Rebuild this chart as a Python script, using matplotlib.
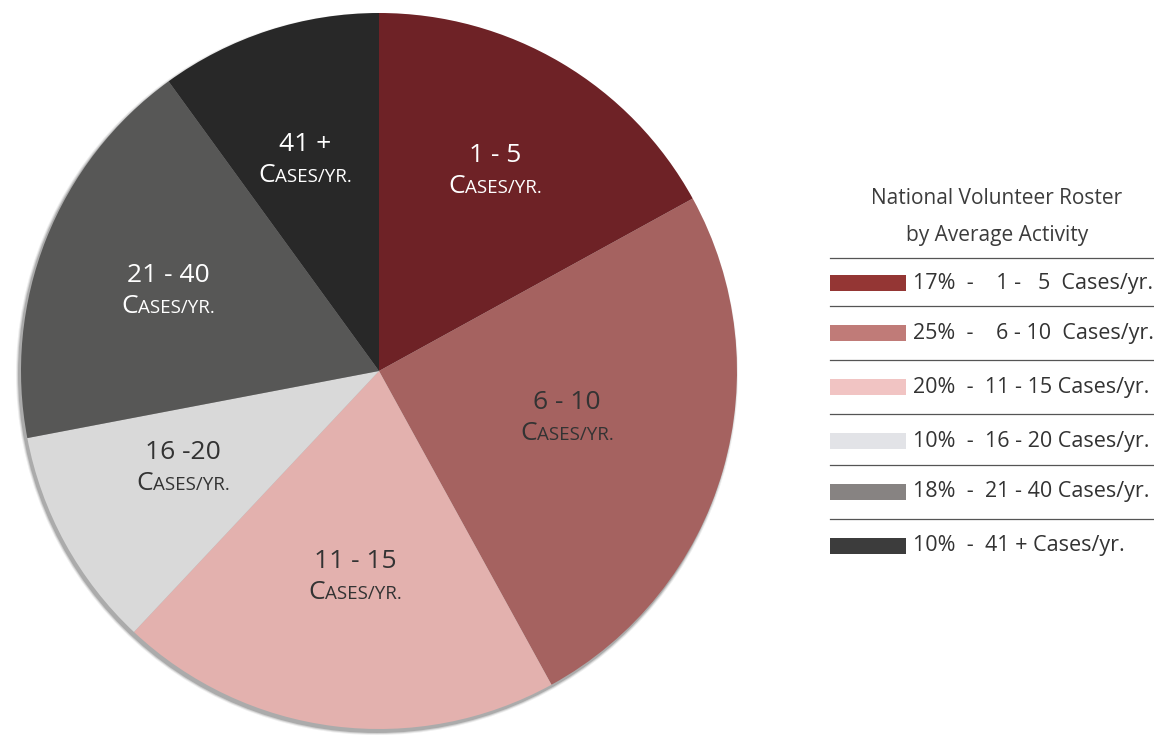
import matplotlib
matplotlib.use("Agg")
import numpy as np
import matplotlib.pyplot as plt
from matplotlib.patches import Rectangle, Circle
from matplotlib.offsetbox import TextArea, HPacker, AnnotationBbox

# data
shares = [17, 25, 20, 10, 18, 10]
ranges = ["1 - 5", "6 - 10", "11 - 15", "16 -20", "21 - 40", "41 +"]
legend_labels = [
    "17%  -    1 -   5  Cases/yr.",
    "25%  -    6 - 10  Cases/yr.",
    "20%  -  11 - 15 Cases/yr.",
    "10%  -  16 - 20 Cases/yr.",
    "18%  -  21 - 40 Cases/yr.",
    "10%  -  41 + Cases/yr.",
]
pie_colors = ["#6e2226", "#a56260", "#e3b1ae", "#d9d9d9", "#575756", "#282828"]
legend_colors = ["#943634", "#c07b78", "#f1c4c3", "#e2e3e7", "#878382", "#3c3c3c"]
text_colors = ["white", "#333333", "#333333", "#333333", "white", "white"]

FONT = ["Open Sans", "DejaVu Sans"]
plt.rcParams["font.family"] = FONT

W, H = 1154, 738
fig = plt.figure(figsize=(W / 100, H / 100), dpi=100)
ax = fig.add_axes([0, 0, 1, 1])

cx, cy, R = 379, H - 371, 358

# soft shadow lower-left
for k, a in enumerate([0.10, 0.18, 0.30]):
    ax.add_patch(Circle((cx - 2, cy - 3), R + 3 - k, color="#555555", alpha=a, lw=0, zorder=0))

wedges, _ = ax.pie(shares, colors=pie_colors, startangle=90, counterclock=False,
                   center=(cx, cy), radius=R, wedgeprops=dict(linewidth=0))
for w in wedges:
    w.set_zorder(1)


def smallcaps(x, y, color):
    big = TextArea("C", textprops=dict(size=19, color=color, family=FONT))
    small = TextArea("ASES/YR.", textprops=dict(size=13.5, color=color, family=FONT))
    box = HPacker(children=[big, small], align="baseline", pad=0, sep=0)
    ab = AnnotationBbox(box, (x, y), frameon=False, box_alignment=(0.5, 0.5), pad=0, zorder=3)
    ax.add_artist(ab)


# label placement: fraction of radius and small angle tweak (deg, ccw)
dist = [0.646, 0.541, 0.577, 0.611, 0.631, 0.627]
dtheta = [0.5, 2.2, 0.5, -2.5, 0.6, 1.2]
for w, lab, d, dt, tc in zip(wedges, ranges, dist, dtheta, text_colors):
    th = np.deg2rad((w.theta1 + w.theta2) / 2 + dt)
    px, py = cx + d * R * np.cos(th), cy + d * R * np.sin(th)
    ax.text(px, py + 15, lab, ha="center", va="center", size=19, color=tc, zorder=3)
    smallcaps(px, py - 16, tc)

# legend block
ax.text(997, H - 198, "National Volunteer Roster", ha="center", va="center", size=15, color="#3c3c3c")
ax.text(997, H - 236, "by Average Activity", ha="center", va="center", size=15, color="#3c3c3c")

sep_y = [258, 306, 360, 414, 465, 519]
row_y = [283, 333, 387, 441, 492, 546]
for sy in sep_y:
    ax.plot([830, W], [H - sy, H - sy], color="#555555", lw=0.9)
for ry, col, lab in zip(row_y, legend_colors, legend_labels):
    ax.add_patch(Rectangle((830, H - ry - 8), 76, 16, color=col, lw=0))
    ax.text(913, H - ry, lab, ha="left", va="center", size=15.5, color="#333333")

ax.set_xlim(0, W)
ax.set_ylim(0, H)
ax.set_aspect("auto")
ax.axis("off")

fig.savefig("out.png", dpi=100)
